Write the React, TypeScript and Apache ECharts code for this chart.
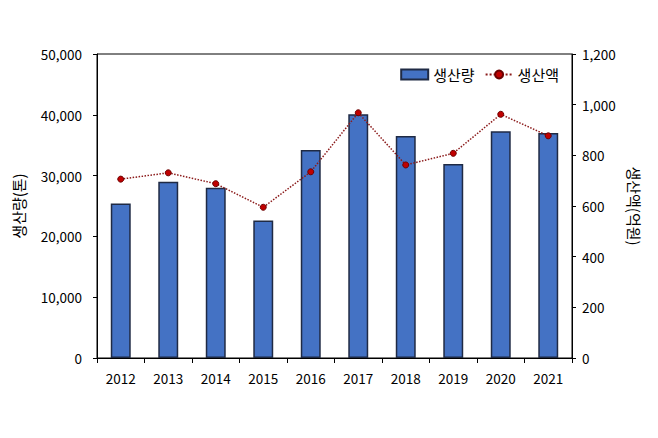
import React, { useEffect, useRef } from "react";
import * as echarts from "echarts";

const years = ["2012", "2013", "2014", "2015", "2016", "2017", "2018", "2019", "2020", "2021"];
const production = [25400, 29000, 28000, 22600, 34200, 40100, 36500, 31900, 37300, 37000];
const value = [706, 731, 688, 595, 735, 968, 762, 808, 962, 877];

const FONT = "'Noto Sans CJK KR', 'Noto Sans', sans-serif";

export default function App() {
  const ref = useRef<HTMLDivElement>(null);
  useEffect(() => {
    const chart = echarts.init(ref.current!, null, { renderer: "svg" });
    chart.setOption({
      animation: false,
      backgroundColor: "#ffffff",
      textStyle: { fontFamily: FONT, color: "#000" },
      grid: {
        left: 97,
        right: 86,
        top: 54,
        bottom: 80,
        show: true,
        borderColor: "#000",
        borderWidth: 1,
      },
      legend: {
        top: 62,
        right: 94,
        itemGap: 10,
        itemWidth: 27,
        itemHeight: 10,
        textStyle: { fontFamily: FONT, fontSize: 15, color: "#000" },
        data: [
          { name: "생산량", icon: "rect" },
          { name: "생산액" },
        ],
      },
      xAxis: {
        type: "category",
        data: years,
        axisLine: { lineStyle: { color: "#000", width: 1 } },
        axisTick: { show: true, length: 5, lineStyle: { color: "#000" } },
        axisLabel: { color: "#000", fontSize: 13.5, margin: 13, fontFamily: FONT },
      },
      yAxis: [
        {
          type: "value",
          min: 0,
          max: 50000,
          interval: 10000,
          name: "생산량(톤)",
          nameLocation: "middle",
          nameGap: 71,
          nameRotate: 90,
          nameTextStyle: { fontSize: 15, color: "#000", fontFamily: FONT },
          splitLine: { show: false },
          axisLine: { show: true, lineStyle: { color: "#000" } },
          axisTick: { show: true, length: 4, lineStyle: { color: "#000" } },
          axisLabel: {
            color: "#000",
            fontSize: 13.5,
            margin: 15,
            fontFamily: FONT,
            formatter: (v: number) => v.toLocaleString("en-US"),
          },
        },
        {
          type: "value",
          min: 0,
          max: 1200,
          interval: 200,
          position: "right",
          name: "생산액(억원)",
          nameLocation: "middle",
          nameGap: 50,
          nameRotate: -90,
          nameTextStyle: { fontSize: 15, color: "#000", fontFamily: FONT },
          splitLine: { show: false },
          axisLine: { show: true, lineStyle: { color: "#000" } },
          axisTick: { show: true, length: 4, lineStyle: { color: "#000" } },
          axisLabel: {
            color: "#000",
            fontSize: 13.5,
            margin: 10,
            fontFamily: FONT,
            formatter: (v: number) => v.toLocaleString("en-US"),
          },
        },
      ],
      series: [
        {
          name: "생산량",
          type: "bar",
          data: production,
          yAxisIndex: 0,
          barWidth: "42%",
          itemStyle: { color: "#4472C4", borderColor: "#1F2A44", borderWidth: 1.5 },
        },
        {
          name: "생산액",
          type: "line",
          data: value,
          yAxisIndex: 1,
          symbol: "circle",
          symbolSize: 6,
          lineStyle: { color: "#8B1A1A", width: 1.5, type: "dotted" },
          itemStyle: { color: "#C00000", borderColor: "#6B0000", borderWidth: 1 },
        },
      ],
    });
    return () => chart.dispose();
  }, []);
  return <div ref={ref} style={{ width: 658, height: 438, marginLeft: -8, marginTop: -8 }} />;
}
